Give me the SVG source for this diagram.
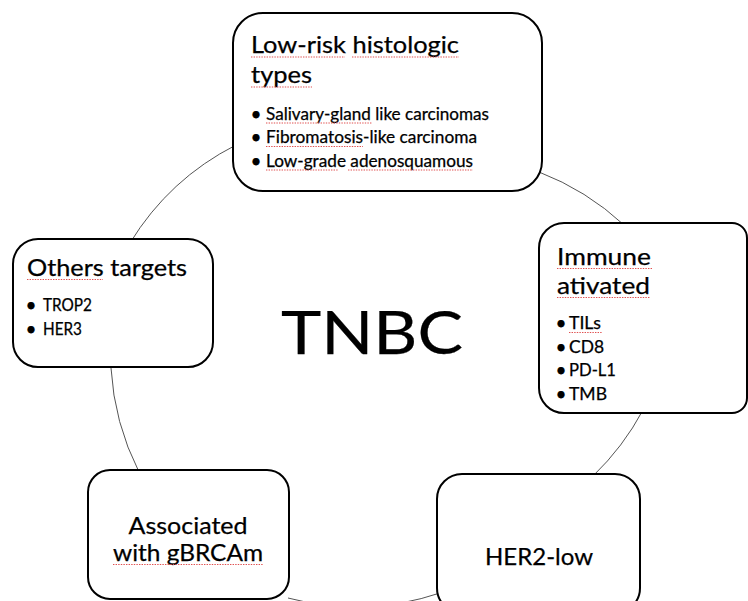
<svg xmlns="http://www.w3.org/2000/svg" width="748" height="601" viewBox="0 0 748 601">
<style>
.box{fill:#fff;stroke:#000;stroke-width:2}
.arc{fill:none;stroke:#555;stroke-width:1}
text{font-family:Lato,"Open Sans","Liberation Sans",sans-serif;fill:#000;stroke:#000;stroke-width:0.25}
.t{font-size:23.3px}
.b{font-size:16.3px}
.d{font-size:19px}
.c{text-anchor:middle}
.sq{stroke:#e05050;stroke-width:1.2;stroke-dasharray:1.4 1.2;fill:none}
</style>
<rect width="748" height="601" fill="#fff"/>
<g id="connectors">
<path class="arc" d="M130,243 A265,265 0 0 1 236,145"/>
<path class="arc" d="M539,172 A265,265 0 0 1 624,225"/>
<path class="arc" d="M643,410 A265,265 0 0 1 593,476"/>
<path class="arc" d="M440,593 A265,265 0 0 1 288,598"/>
<path class="arc" d="M139,472 A265,265 0 0 1 111,368"/>
</g>
<g id="node-lowrisk">
<rect class="box" x="233" y="13" width="309" height="178" rx="30"/>
<text class="t" x="251" y="53" textLength="208" lengthAdjust="spacingAndGlyphs">Low-risk histologic</text>
<text class="t" x="251" y="83" textLength="61" lengthAdjust="spacingAndGlyphs">types</text>
<text class="d c" x="256" y="120.5">•</text>
<text class="d c" x="256" y="144">•</text>
<text class="d c" x="256" y="167.5">•</text>
<text class="b" x="266" y="119.5" textLength="223" lengthAdjust="spacingAndGlyphs">Salivary-gland like carcinomas</text>
<text class="b" x="266" y="143" textLength="211" lengthAdjust="spacingAndGlyphs">Fibromatosis-like carcinoma</text>
<text class="b" x="266" y="166.5" textLength="207" lengthAdjust="spacingAndGlyphs">Low-grade adenosquamous</text>
<path class="sq" d="M251,57 H345 M352,57 H459 M251,87 H312 M266,123 H372 M266,146.5 H363 M266,170 H338 M348,170 H473"/>
</g>
<g id="node-immune">
<path class="box" d="M564,223 H732 A15,15 0 0 1 747,238 V398 A15,15 0 0 1 732,413 H564 A25,25 0 0 1 539,388 V248 A25,25 0 0 1 564,223 Z"/>
<text class="t" x="557" y="265" textLength="94" lengthAdjust="spacingAndGlyphs">Immune</text>
<text class="t" x="557" y="294" textLength="93" lengthAdjust="spacingAndGlyphs">ativated</text>
<text class="d c" x="561" y="330">•</text>
<text class="d c" x="561" y="353.5">•</text>
<text class="d c" x="561" y="377">•</text>
<text class="d c" x="561" y="400.5">•</text>
<text class="b" x="569" y="329" textLength="32" lengthAdjust="spacingAndGlyphs">TILs</text>
<text class="b" x="569" y="352.5" textLength="35" lengthAdjust="spacingAndGlyphs">CD8</text>
<text class="b" x="569" y="376" textLength="47" lengthAdjust="spacingAndGlyphs">PD-L1</text>
<text class="b" x="569" y="399.5" textLength="38" lengthAdjust="spacingAndGlyphs">TMB</text>
<path class="sq" d="M557,268.5 H652 M557,297.5 H650 M569,332.5 H602"/>
</g>
<g id="node-others">
<rect class="box" x="13" y="239" width="200" height="128" rx="25"/>
<text class="t" x="27" y="276" textLength="160" lengthAdjust="spacingAndGlyphs">Others targets</text>
<text class="d c" x="31" y="312">•</text>
<text class="d c" x="31" y="336">•</text>
<text class="b" x="43" y="311" textLength="49" lengthAdjust="spacingAndGlyphs">TROP2</text>
<text class="b" x="43" y="335" textLength="39" lengthAdjust="spacingAndGlyphs">HER3</text>
<path class="sq" d="M27,279.5 H103"/>
</g>
<g id="node-gbrca">
<rect class="box" x="88" y="470" width="201" height="129" rx="22"/>
<text class="t c" x="188" y="534" textLength="119" lengthAdjust="spacingAndGlyphs">Associated</text>
<text class="t c" x="188" y="561" textLength="150" lengthAdjust="spacingAndGlyphs">with gBRCAm</text>
<path class="sq" d="M113,564.5 H263"/>
</g>
<g id="node-her2">
<rect class="box" x="437" y="474" width="203" height="139" rx="25"/>
<text class="t c" x="539" y="565" textLength="108" lengthAdjust="spacingAndGlyphs">HER2-low</text>
</g>
<g id="center">
<text x="281" y="354" font-size="60.5" textLength="182" lengthAdjust="spacingAndGlyphs">TNBC</text>
</g>
</svg>
